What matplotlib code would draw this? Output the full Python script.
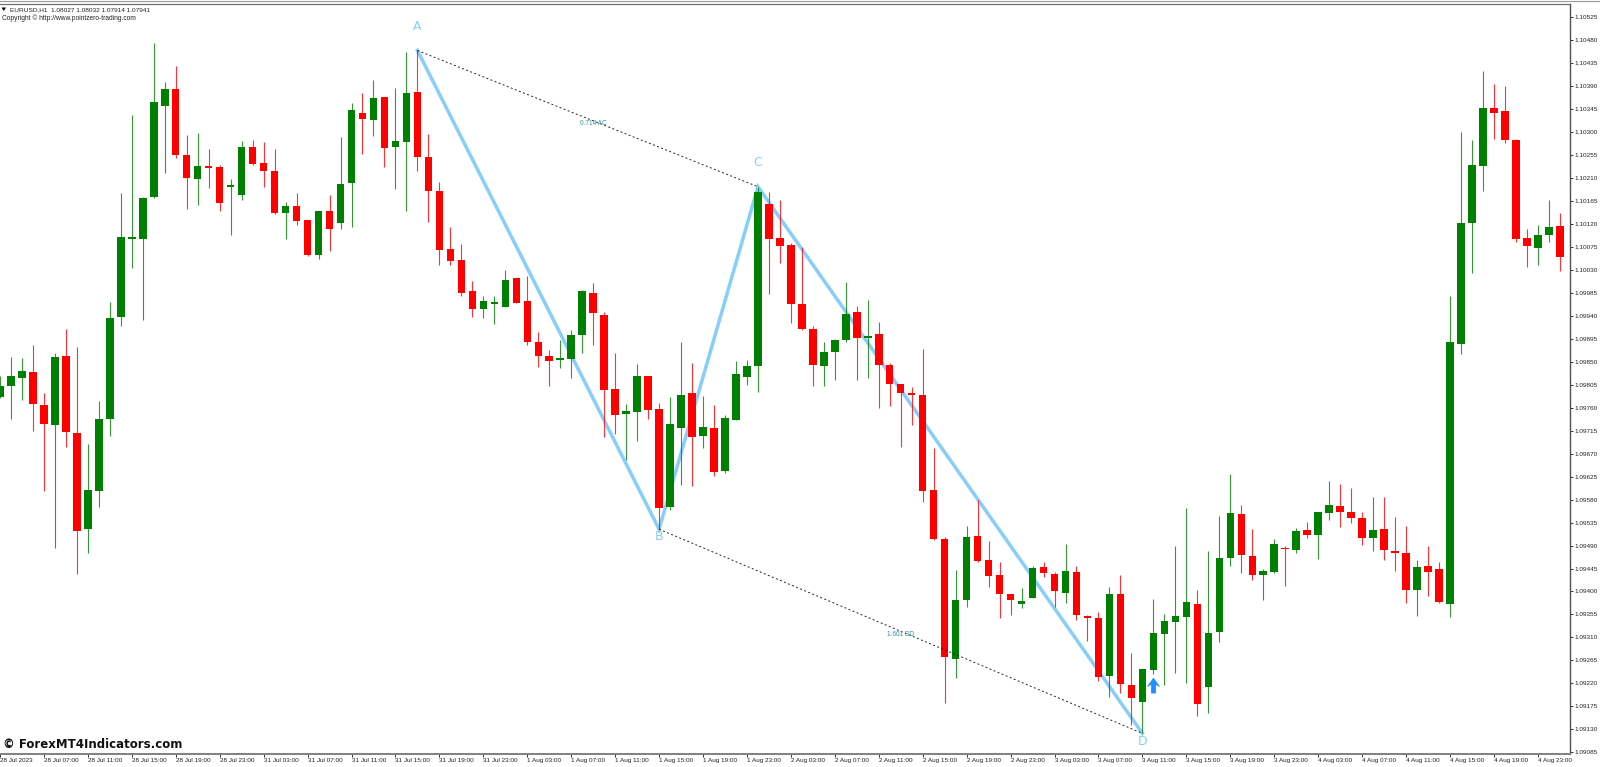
import numpy as np
import matplotlib
matplotlib.use('Agg')
import matplotlib.pyplot as plt
from matplotlib.path import Path

# H1 candles, prices in points (1e-5)
opens = [109782,109803,109818,109830,109765,109726,109861,109711,109522,109597,109737,109938,110091,110091,110173,110351,110384,110255,110208,110234,110232,
         110193,110176,110271,110239,110223,110141,110155,110127,110060,110145,110121,110200,110338,110324,110368,110270,110281,110379,110251,110185,110071,110050,109989,109953,
         109964,109958,110014,109969,109889,109861,109854,109856,109903,109984,109942,109796,109748,109752,109823,109757,109566,109721,109788,109705,109720,109636,109736,109820,
         109841,110159,110092,110079,109963,109914,109842,109870,109892,109947,109897,109905,109843,109806,109788,109784,109598,109502,109268,109383,109508,109462,109432,109395,
         109376,109388,109447,109434,109398,109438,109352,109348,109234,109396,109217,109184,109246,109316,109341,109350,109376,109213,109321,109466,109552,109470,109432,109438,
         109486,109481,109520,109510,109554,109567,109556,109543,109505,109522,109479,109475,109402,109449,109444,109376,109885,110121,110234,110347,110342,110285,110093,110073,110099,110116]
highs = [109822,109859,109858,109883,109788,109867,109914,109879,109688,109773,109967,110181,110333,110172,110475,110399,110430,110294,110298,110267,110236,
         110208,110282,110285,110280,110266,110163,110181,110128,110145,110177,110291,110357,110377,110403,110368,110387,110456,110460,110296,110202,110115,110080,110008,109979,
         109978,110030,110014,110018,109909,109873,109893,109912,109991,110004,109948,109868,109767,109846,109823,109769,109782,109889,109847,109783,109765,109746,109852,109854,
         110193,110183,110167,110082,110074,109921,109888,109895,110006,109960,109971,109928,109848,109807,109801,109875,109681,109506,109442,109528,109579,109498,109458,109396,
         109407,109449,109458,109439,109493,109450,109353,109359,109408,109432,109279,109249,109385,109355,109489,109563,109402,109480,109547,109630,109570,109523,109445,109502,
         109490,109524,109536,109556,109616,109611,109602,109555,109585,109585,109545,109528,109462,109489,109457,109979,110300,110285,110419,110394,110391,110286,110111,110118,110167,110142]
lows = [109779,109737,109775,109715,109597,109485,109684,109434,109476,109565,109705,109920,110034,109931,110171,110220,110250,110149,110158,110191,110146,
        110099,110167,110236,110193,110139,110091,110118,110058,110051,110068,110110,110114,110258,110292,110231,110188,110146,110223,110123,110040,110040,109978,109937,109935,
        109924,109957,109965,109883,109839,109803,109838,109818,109867,109883,109702,109709,109658,109694,109737,109522,109560,109609,109607,109682,109627,109633,109735,109805,
        109790,109982,110044,109927,109913,109803,109803,109815,109888,109815,109818,109760,109764,109684,109726,109576,109500,109182,109231,109370,109458,109408,109349,109353,
        109367,109387,109428,109370,109378,109344,109303,109225,109193,109202,109138,109122,109238,109217,109240,109220,109157,109161,109302,109449,109436,109423,109383,109436,
        109411,109475,109505,109464,109540,109526,109534,109492,109479,109462,109441,109378,109352,109391,109378,109350,109865,110024,110185,110287,110278,110085,110036,110040,110085,110027]
closes = [109802,109823,109831,109767,109728,109859,109713,109519,109598,109737,109936,110095,110095,110171,110359,110384,110255,110211,110234,110230,110161,
          110197,110271,110238,110223,110142,110155,110125,110059,110145,110110,110198,110343,110325,110366,110269,110283,110376,110251,110184,110069,110048,109985,109954,109969,
          109967,110011,109966,109888,109861,109852,109858,109902,109989,109946,109795,109746,109754,109823,109755,109564,109728,109784,109703,109722,109635,109739,109827,109842,
          110183,110091,110076,109963,109914,109844,109870,109893,109944,109896,109901,109844,109806,109788,109784,109597,109502,109272,109384,109507,109460,109431,109396,109383,
          109381,109446,109436,109400,109441,109353,109349,109233,109396,109218,109191,109248,109318,109342,109352,109380,109179,109319,109466,109553,109471,109433,109441,109493,
          109483,109519,109511,109555,109570,109556,109543,109504,109521,109481,109475,109402,109447,109438,109379,109889,110121,110236,110347,110338,110285,110091,110076,110099,110115,110055]

time_labels = ['28 Jul 2023', '28 Jul 07:00', '28 Jul 11:00', '28 Jul 15:00', '28 Jul 19:00', '28 Jul 23:00',
               '31 Jul 03:00', '31 Jul 07:00', '31 Jul 11:00', '31 Jul 15:00', '31 Jul 19:00', '31 Jul 23:00',
               '1 Aug 03:00', '1 Aug 07:00', '1 Aug 11:00', '1 Aug 15:00', '1 Aug 19:00', '1 Aug 23:00',
               '2 Aug 03:00', '2 Aug 07:00', '2 Aug 11:00', '2 Aug 15:00', '2 Aug 19:00', '2 Aug 23:00',
               '3 Aug 03:00', '3 Aug 07:00', '3 Aug 11:00', '3 Aug 15:00', '3 Aug 19:00', '3 Aug 23:00',
               '4 Aug 03:00', '4 Aug 07:00', '4 Aug 11:00', '4 Aug 15:00', '4 Aug 19:00', '4 Aug 23:00']
time_ticks = [4 * i for i in range(len(time_labels))]

price_labels = ['1.09085', '1.09130', '1.09175', '1.09220', '1.09265', '1.09310', '1.09355', '1.09400', '1.09445',
                '1.09490', '1.09535', '1.09580', '1.09625', '1.09670', '1.09715', '1.09760', '1.09805', '1.09850',
                '1.09895', '1.09940', '1.09985', '1.10030', '1.10075', '1.10120', '1.10165', '1.10210', '1.10255',
                '1.10300', '1.10345', '1.10390', '1.10435', '1.10480', '1.10525']

# A, B, C, D points of the pattern
pattern_bars = [38, 60, 69, 104]
pattern_names = ['A', 'B', 'C', 'D']
signal_bar = 105

opens = np.array(opens) / 1e5
highs = np.array(highs) / 1e5
lows = np.array(lows) / 1e5
closes = np.array(closes) / 1e5
bars = np.arange(len(opens))

W, H = 1600, 767
BLUE = '#87cefa'
TEAL = '#2f8f9f'
LABEL_FONT = ['Liberation Sans', 'DejaVu Sans']

fig = plt.figure(figsize=(W / 100, H / 100), dpi=100, facecolor='white')
ax = fig.add_axes([0, 1 - 754.3 / H, 1569.7 / W, (754.3 - 3.5) / H])
ax.set_xlim(0.064, 142.9)
ax.set_ylim(1.09081, 1.10552)

up = closes >= opens
colors = np.where(up, '#008000', '#ff0000')

pat_x = pattern_bars
pat_y = [highs[38], lows[60], highs[69], lows[104]]

ax.plot(pat_x, pat_y, color=BLUE, lw=2.5, zorder=1, solid_joinstyle='miter')
ax.plot([pat_x[0], pat_x[2]], [pat_y[0], pat_y[2]], color='#222222', lw=0.7, ls=(0, (2, 2.5)), zorder=4)
ax.plot([pat_x[1], pat_x[3]], [pat_y[1], pat_y[3]], color='#222222', lw=0.7, ls=(0, (2, 2.5)), zorder=4)

ax.vlines(bars, lows, highs, colors=colors, lw=0.8, alpha=0.8, zorder=2)
ax.bar(bars, np.abs(closes - opens), bottom=np.minimum(opens, closes), width=0.68, color=colors, lw=0, zorder=3)

# pattern letters
offsets = [(0, 24), (0, -7), (0, 24), (0, -8)]
for name, x, y, off in zip(pattern_names, pat_x, pat_y, offsets):
    ax.annotate(name, (x, y), xytext=off, textcoords='offset pixels', ha='center', va='center',
                color=BLUE, fontsize=9, zorder=5)

# ratios on the dotted lines
ax.annotate('0.714 AC', ((pat_x[0] + pat_x[2]) / 2, (pat_y[0] + pat_y[2]) / 2), xytext=(6, -5),
            textcoords='offset pixels', color=TEAL, fontsize=4.7, ha='center', va='center',
            family=LABEL_FONT, zorder=5)
ax.annotate('1.601 BD', ((pat_x[1] + pat_x[3]) / 2, (pat_y[1] + pat_y[3]) / 2), xytext=(0, -3),
            textcoords='offset pixels', color=TEAL, fontsize=4.7, ha='center', va='center',
            family=LABEL_FONT, zorder=5)

# buy arrow under the signal bar
arrow = Path([(-0.3, -1), (0.3, -1), (0.3, 0.1), (0.6, -0.1), (0.85, -0.2), (0, 1), (-0.85, -0.2), (-0.6, -0.1), (-0.3, 0.1), (-0.3, -1)],
             closed=True)
ax.plot([signal_bar], [lows[signal_bar]], ls='none', marker=arrow, ms=11.5, color='#1e90ff', mew=0, zorder=5,
        transform=ax.transData + matplotlib.transforms.ScaledTranslation(0, -11 / 100, fig.dpi_scale_trans))

ax.yaxis.tick_right()
ax.set_yticks([float(p) for p in price_labels])
ax.set_yticklabels(price_labels, fontsize=4.6, color='#222222', family=LABEL_FONT)
ax.set_xticks(time_ticks)
ax.set_xticklabels(time_labels, fontsize=4.6, color='#222222', family=LABEL_FONT, ha='left')
ax.tick_params(axis='y', length=2, width=0.7, pad=1.5, color='#333333')
ax.tick_params(axis='x', length=2, width=0.7, pad=1.0, color='#333333')

ax.spines['left'].set_visible(False)
ax.spines['top'].set_color('#707070')
ax.spines['top'].set_linewidth(0.9)
ax.spines['right'].set_color('#505050')
ax.spines['right'].set_linewidth(1.0)
ax.spines['bottom'].set_color('#808080')
ax.spines['bottom'].set_linewidth(1.4)

# window strip above the chart
fig.add_artist(plt.Line2D([0, 1], [1 - 1 / H, 1 - 1 / H], color='#9a9a9a', lw=0.8))

# chart header and watermark
fig.text(10 / W, 1 - 9.5 / H, 'EURUSD,H1  1.08027 1.08032 1.07914 1.07941', fontsize=4.65, color='#222222',
         family=LABEL_FONT, va='center')
fig.text(2.3 / W, 1 - 18.5 / H, 'Copyright © http://www.pointzero-trading.com', fontsize=4.8, color='#222222',
         family=LABEL_FONT, va='center')
fig.add_artist(plt.Polygon([[1.5 / W, 1 - 7.5 / H], [6 / W, 1 - 7.5 / H], [3.75 / W, 1 - 11 / H]], color='black', lw=0))
fig.text(3 / W, 1 - 745 / H, '© ForexMT4Indicators.com', fontsize=8.45, fontweight='bold', color='#111111',
         family='DejaVu Sans', va='center')

fig.savefig('out.png', dpi=100)
